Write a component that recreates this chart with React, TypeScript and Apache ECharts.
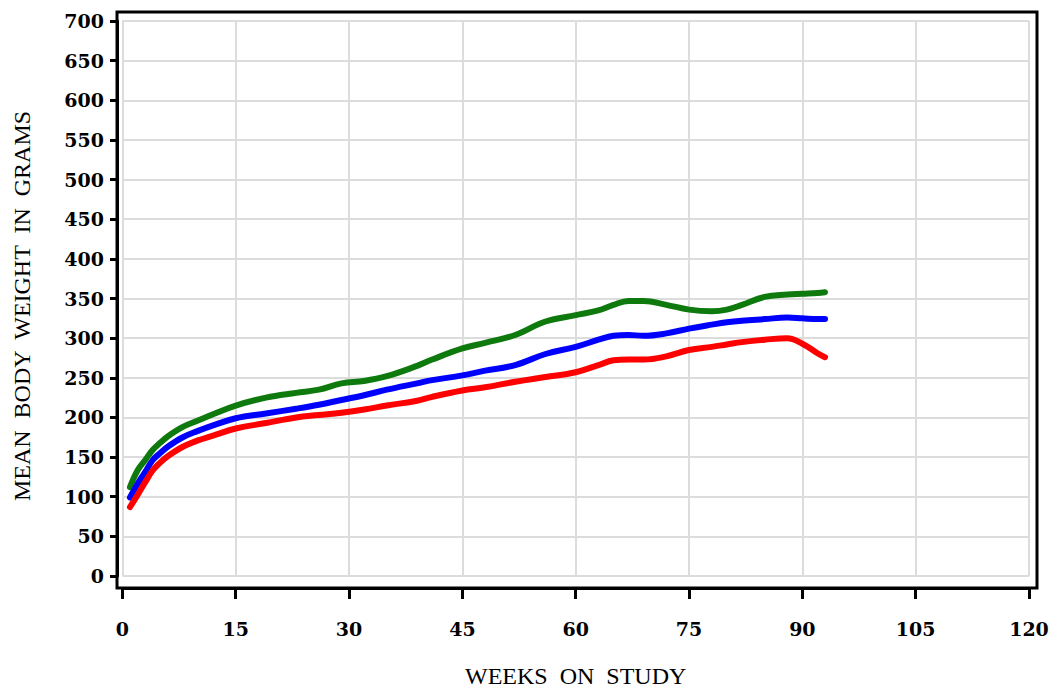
import React, { useEffect, useRef } from "react";
import * as echarts from "echarts";

const weeks = [1, 2, 3, 4, 5, 6, 8, 10, 12, 15, 19, 23, 26, 29, 32, 35, 39, 41, 45, 48, 52, 56, 60, 63, 65, 67, 69, 72, 75, 78, 80, 82, 85, 88, 90, 92, 93];
const greenValues = [112, 133, 146, 159, 168, 176, 188, 196, 204, 215, 225, 231, 235, 243, 246, 252, 265, 273, 287, 294, 304, 321, 329, 335, 342, 347, 347, 342, 336, 334, 336, 342, 352, 355, 356, 357, 358];
const blueValues = [99, 116, 131, 146, 155, 163, 175, 183, 190, 199, 205, 211, 216, 222, 228, 235, 243, 247, 253, 259, 266, 280, 289, 298, 303, 304, 303, 306, 312, 317, 320, 322, 324, 326, 325, 324, 324];
const redValues = [87, 102, 118, 133, 143, 151, 163, 171, 177, 186, 193, 200, 203, 206, 210, 215, 221, 226, 234, 238, 245, 251, 257, 266, 272, 273, 273, 277, 285, 289, 292, 295, 298, 300, 293, 281, 276];

const xTitle = "WEEKS  ON  STUDY";
const yTitle = "MEAN  BODY  WEIGHT  IN  GRAMS";

const tickFont = "'DejaVu Serif', serif";
const titleFont = "'Liberation Serif', 'Times New Roman', serif";

export default function App() {
  const ref = useRef<HTMLDivElement>(null);
  useEffect(() => {
    document.body.style.margin = "0";
    const chart = echarts.init(ref.current!, null, { renderer: "svg" });
    const mk = (vals: number[], color: string, name: string) => ({
      type: "line",
      name,
      data: weeks.map((w, i) => [w, vals[i]]),
      smooth: 0.4,
      showSymbol: false,
      symbol: "none",
      lineStyle: { color, width: 6, cap: "round", join: "round" },
      z: 3,
    });
    chart.setOption({
      animation: false,
      backgroundColor: "#ffffff",
      grid: { left: 122.4, right: 21, top: 21, bottom: 115, containLabel: false, outerBoundsMode: "none" },
      xAxis: {
        type: "value",
        min: 0,
        max: 120,
        interval: 15,
        offset: 12,
        name: xTitle,
        nameLocation: "middle",
        nameGap: 76,
        nameTextStyle: { fontFamily: titleFont, fontSize: 24, color: "#000" },
        axisLine: { show: true, onZero: false, lineStyle: { color: "#000", width: 3 } },
        axisTick: { show: true, length: 11, lineStyle: { color: "#000", width: 3 } },
        axisLabel: { margin: 31, fontFamily: tickFont, fontSize: 19, fontWeight: "bold", color: "#000" },
        splitLine: { show: true, lineStyle: { color: "#dcdcdc", width: 2 } },
      },
      yAxis: {
        type: "value",
        min: 0,
        max: 700,
        interval: 50,
        offset: 5.4,
        axisLine: { show: true, onZero: false, lineStyle: { color: "#000", width: 3 } },
        axisTick: { show: true, length: 7, lineStyle: { color: "#000", width: 3 } },
        axisLabel: { margin: 13, fontFamily: tickFont, fontSize: 19, fontWeight: "bold", color: "#000" },
        splitLine: { show: true, lineStyle: { color: "#dcdcdc", width: 2 } },
      },
      graphic: [
        {
          type: "rect",
          shape: { x: 117, y: 12, width: 920, height: 576 },
          style: { fill: "none", stroke: "#000", lineWidth: 3 },
          z: 10,
          silent: true,
        },
        {
          type: "text",
          x: 22,
          y: 306,
          rotation: Math.PI / 2,
          style: {
            text: yTitle,
            fontFamily: titleFont,
            fontSize: 24,
            fill: "#000",
            align: "center",
            verticalAlign: "middle",
          },
          silent: true,
        },
      ],
      series: [mk(greenValues, "#0e7a0e", "Green"), mk(blueValues, "#0000ff", "Blue"), mk(redValues, "#ff0000", "Red")],
    });
    return () => chart.dispose();
  }, []);
  return <div ref={ref} style={{ position: "fixed", left: 0, top: 0, width: 1050, height: 691 }} />;
}
